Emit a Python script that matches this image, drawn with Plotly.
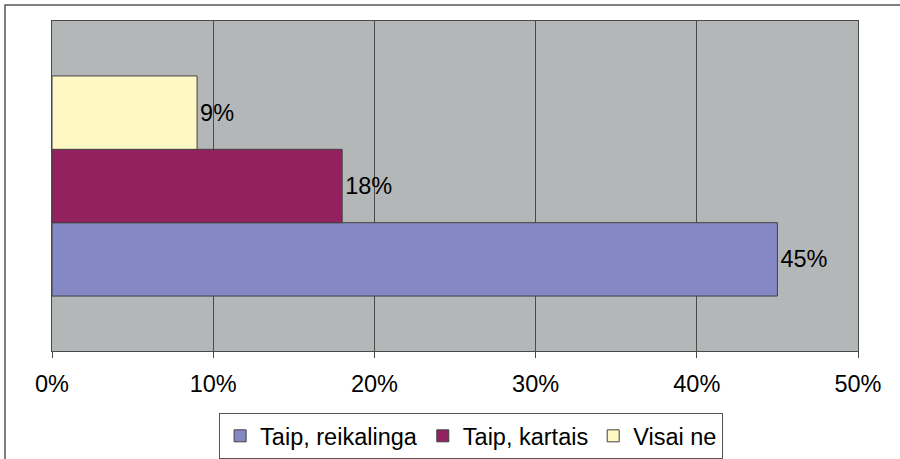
import plotly.graph_objects as go

category = [""]
series_names = ["Taip, reikalinga", "Taip, kartais", "Visai ne"]
series_values = [[45], [18], [9]]
series_colors = ["#8488C4", "#93215F", "#FFF8C4"]
tick_vals = [0, 10, 20, 30, 40, 50]
tick_text = ["0%", "10%", "20%", "30%", "40%", "50%"]

FONT = "Liberation Sans, Arial, sans-serif"
FS = 23.5

fig = go.Figure()
for name, vals, col in zip(series_names, series_values, series_colors):
    fig.add_trace(go.Bar(
        y=category, x=vals, name=name, orientation="h",
        marker=dict(color=col, line=dict(color="#404040", width=1)),
        text=[f"{v}%" for v in vals], textposition="outside",
        textfont=dict(size=FS, color="#000000", family=FONT),
        cliponaxis=False,
    ))

fig.update_layout(
    width=900, height=459,
    barmode="group", bargap=0.333,
    paper_bgcolor="white", plot_bgcolor="#B4B7B8",
    margin=dict(l=52, r=42, t=21, b=108, autoexpand=False),
    font=dict(family=FONT, size=FS, color="#000000"),
    showlegend=True,
    legend=dict(orientation="h", x=0.52, xanchor="center", y=-0.188, yanchor="top",
                bordercolor="#555555", borderwidth=1, bgcolor="white",
                font=dict(size=FS), traceorder="normal",
                itemwidth=30, tracegroupgap=0),
    xaxis=dict(range=[0, 50], tickvals=tick_vals, ticktext=tick_text,
               showgrid=True, gridcolor="#4a4a4a", gridwidth=1,
               showline=True, linecolor="#4a4a4a", mirror=True,
               ticks="outside", ticklen=6, tickcolor="#4a4a4a",
               ticklabelstandoff=6, zeroline=False, automargin=False,
               tickfont=dict(size=FS)),
    yaxis=dict(showticklabels=False, showline=True, linecolor="#4a4a4a", mirror=True,
               showgrid=False, ticks="", automargin=False),
    shapes=[dict(type="rect", xref="paper", yref="paper",
                 x0=-47/806, x1=1 + 60/806, y0=-120/330, y1=1 + 16/330,
                 line=dict(color="#555555", width=1.5), fillcolor="rgba(0,0,0,0)", layer="below")],
)

fig.write_html("out.html", config={"displayModeBar": False},
               post_script="document.body.style.margin='0px';")
